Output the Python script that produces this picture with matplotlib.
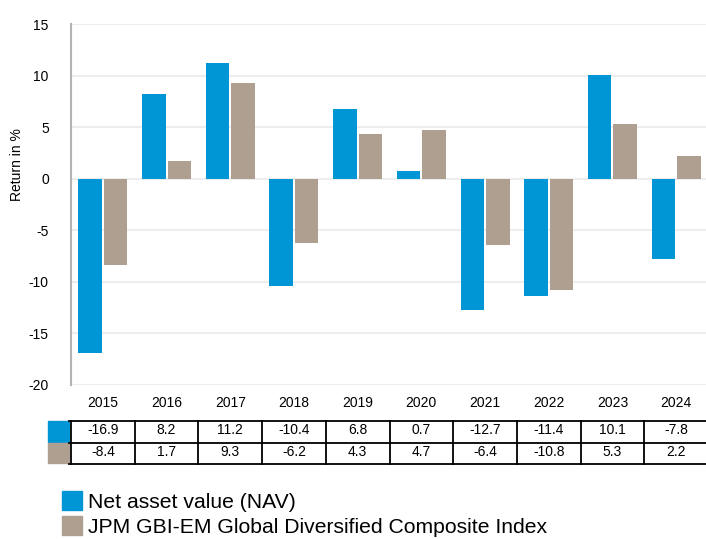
import numpy as np
import matplotlib
matplotlib.use("Agg")
from matplotlib import pyplot as plt
from matplotlib.patches import Rectangle, Patch

plt.rcParams['font.family'] = ['Liberation Sans', 'DejaVu Sans']
plt.rcParams['axes.unicode_minus'] = False

years = ['2015', '2016', '2017', '2018', '2019', '2020', '2021', '2022', '2023', '2024']
nav = [-16.9, 8.2, 11.2, -10.4, 6.8, 0.7, -12.7, -11.4, 10.1, -7.8]
index = [-8.4, 1.7, 9.3, -6.2, 4.3, 4.7, -6.4, -10.8, 5.3, 2.2]
nav_label = 'Net asset value (NAV)'
index_label = 'JPM GBI-EM Global Diversified Composite Index'

BLUE = '#0096d6'
TAN = '#ae9f91'

W, H = 706, 539
fig = plt.figure(figsize=(W / 100, H / 100), dpi=100)

# main bar chart (slightly wider than the picture, as in the original)
ax = fig.add_axes([71 / W, 1 - 385 / H, 637 / W, 361 / H])
x = np.arange(len(years))
ax.bar(x - 0.2, nav, width=0.37, color=BLUE, zorder=3)
ax.bar(x + 0.2, index, width=0.37, color=TAN, zorder=3)
ax.set_xlim(-0.5, len(years) - 0.5)
ax.set_ylim(-20, 15)
ax.set_yticks(np.arange(-20, 16, 5))
ax.yaxis.grid(True, color='#ededed', lw=1.5, zorder=0)
for s in ['top', 'right', 'bottom']:
    ax.spines[s].set_visible(False)
ax.spines['left'].set_color('#b3b3b3')
ax.spines['left'].set_linewidth(1.5)
ax.set_xticks(x)
ax.set_xticklabels(years)
ax.tick_params(axis='y', length=0, pad=16, labelsize=10)
ax.tick_params(axis='x', length=0, pad=8, labelsize=10)
fig.text(17 / W, 1 - 165 / H, 'Return in %', rotation=90, va='center', ha='center', fontsize=10)

# data table under the chart
tab = fig.add_axes([71 / W, 1 - 464 / H, 637 / W, 43 / H])
tab.set_xlim(-0.5, len(years) - 0.5)
tab.set_ylim(2, 0)
tab.axis('off')
x0 = -0.5 - 2 / 63.7
for r in range(3):
    tab.plot([x0, len(years) - 0.5], [r, r], color='black', lw=1.3, clip_on=False)
for k in range(len(years) + 1):
    tab.plot([k - 0.5, k - 0.5], [0, 2], color='black', lw=1.3, clip_on=False)
sw = 21 / 63.7
for r, (vals, col) in enumerate([(nav, BLUE), (index, TAN)]):
    tab.add_patch(Rectangle((-0.5 - sw - 2 / 63.7, r + 0.02), sw, 0.94, color=col, clip_on=False))
    for i, v in enumerate(vals):
        tab.text(i, r + 0.1, f'{v:.1f}', ha='center', va='top', fontsize=10)

# legend
handles = [Patch(color=BLUE), Patch(color=TAN)]
fig.legend(handles, [nav_label, index_label], loc='upper left',
           bbox_to_anchor=(62 / W, 1 - 491 / H), frameon=False, fontsize=15.2,
           handlelength=0.95, handleheight=1.0, handletextpad=0.3,
           labelspacing=0.22, borderpad=0, borderaxespad=0)

fig.savefig('out.png', dpi=100)
